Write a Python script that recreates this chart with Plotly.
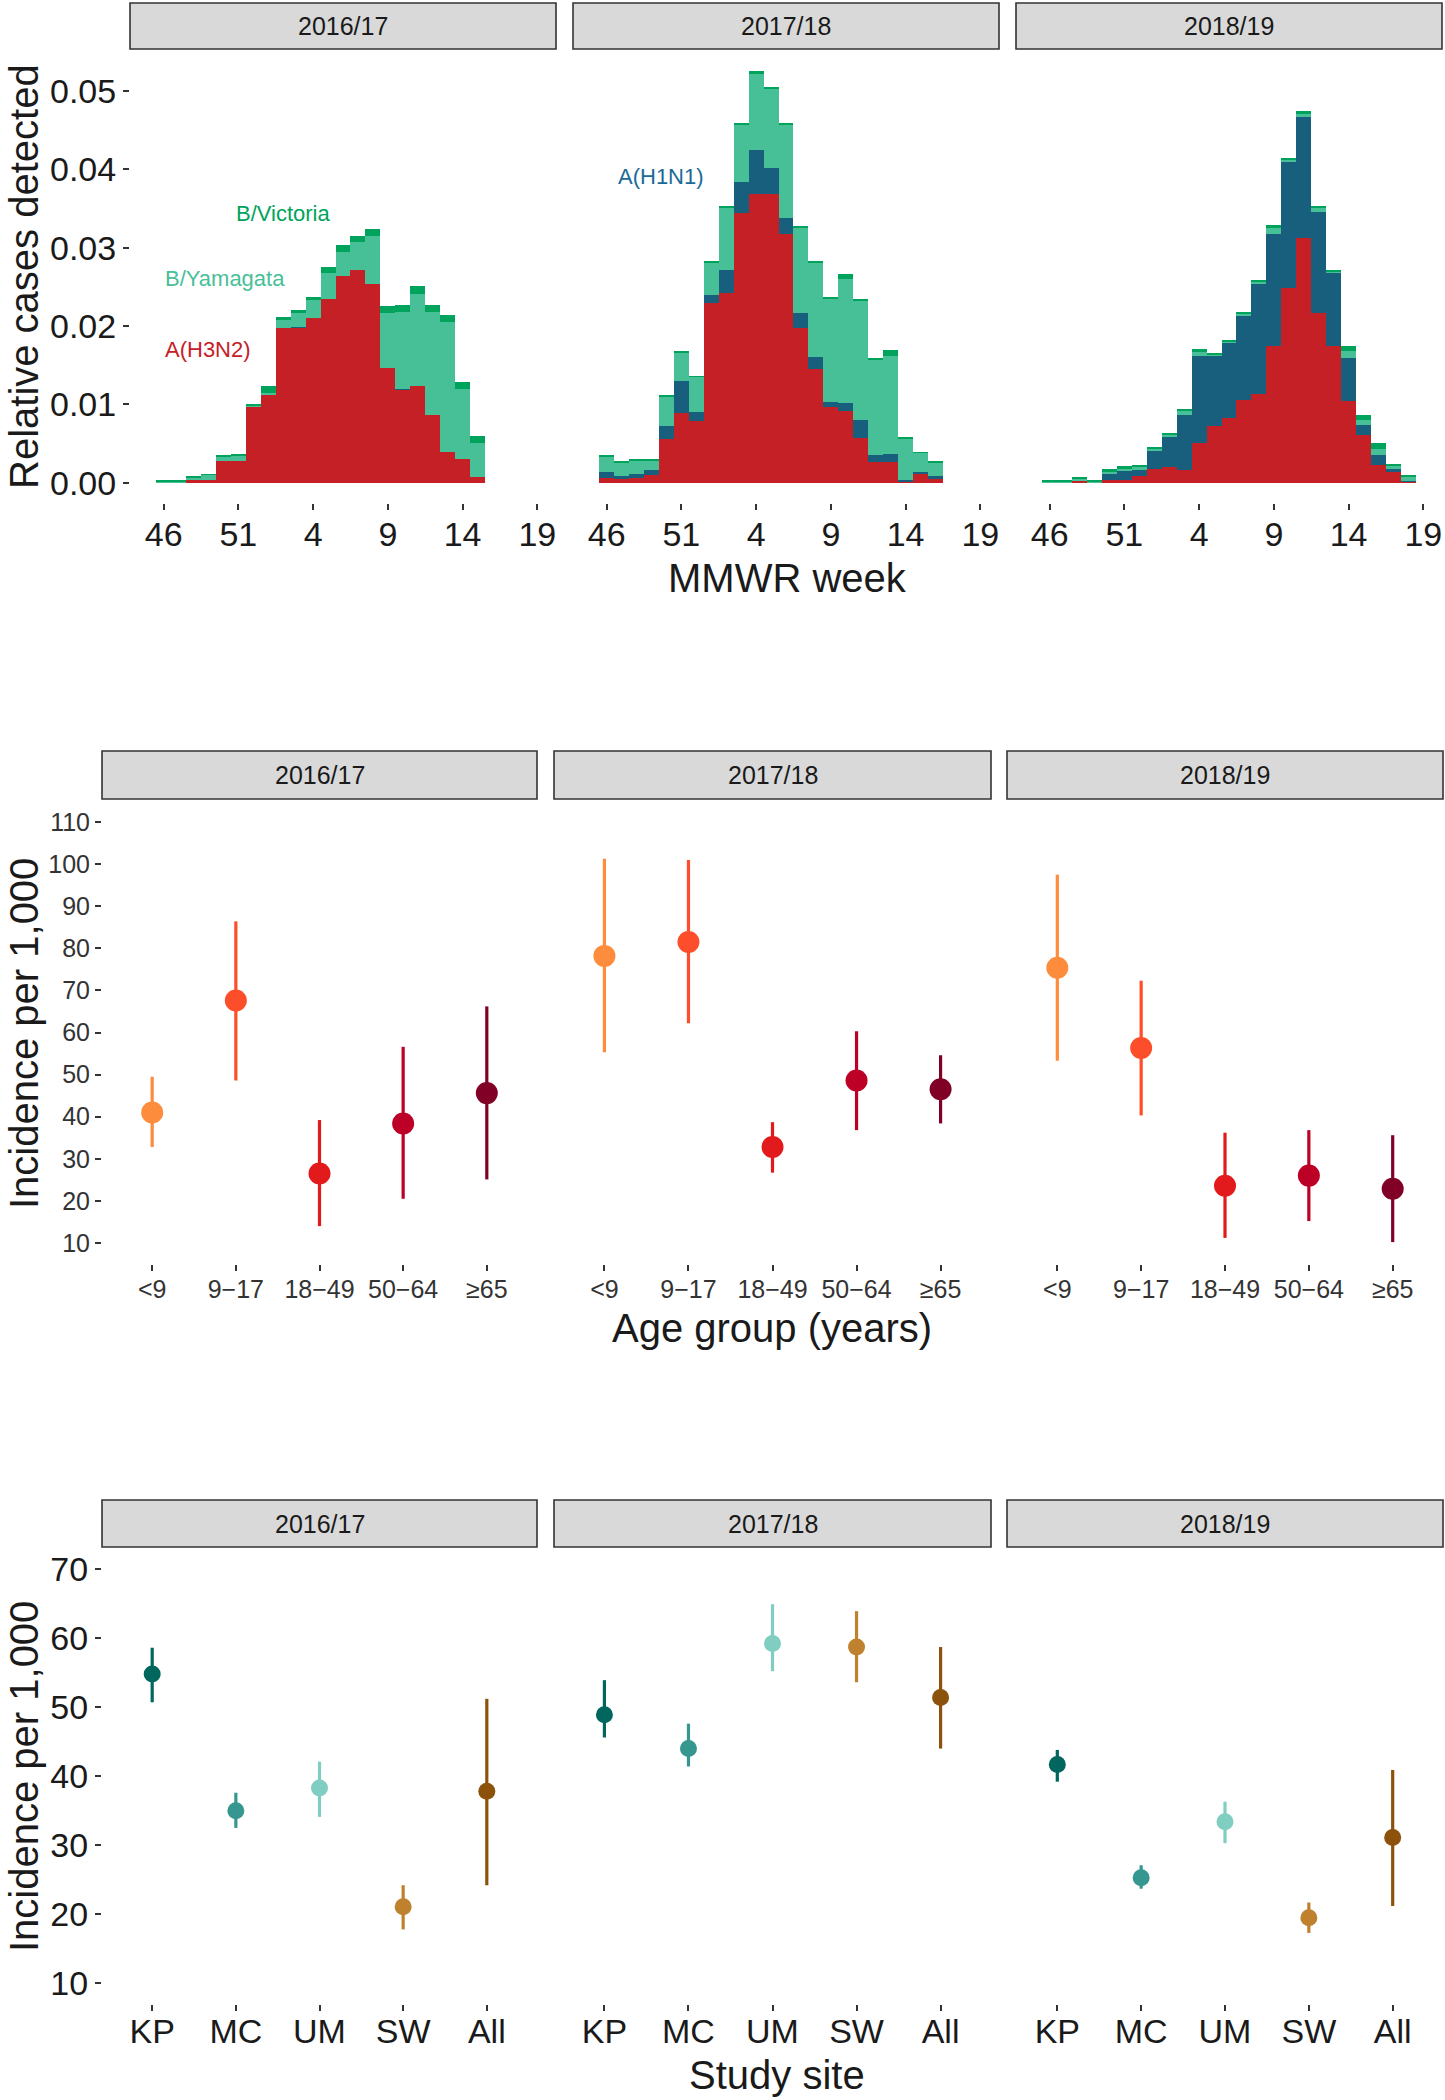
import plotly.graph_objects as go

W, H = 1445, 2100
FONT = "Liberation Sans, Arial, sans-serif"

seasons = ["2016/17", "2017/18", "2018/19"]

# ---------- Top row: weekly relative cases detected ----------
week_axis = ["46", "47", "48", "49", "50", "51", "52", "1", "2", "3", "4", "5", "6", "7",
             "8", "9", "10", "11", "12", "13", "14", "15", "16", "17", "18", "19"]
week_ticks = ["46", "51", "4", "9", "14", "19"]

weeks_1617 = week_axis[:22]
h3n2_1617 = [0, 0, 0.0003, 0.0004, 0.0028, 0.0028, 0.0096, 0.0113, 0.0197, 0.0198, 0.0210,
             0.0235, 0.0264, 0.0271, 0.0254, 0.0146, 0.0119, 0.0124, 0.0086, 0.0039, 0.0030, 0.0007]
h1n1_1617 = [0, 0, 0, 0, 0, 0, 0, 0, 0, 0.0001, 0, 0, 0, 0, 0, 0, 0.0001, 0, 0, 0, 0, 0]
yam_1617 = [0.0002, 0.0002, 0.0004, 0.0006, 0.0005, 0.0007, 0.0003, 0.0002, 0.0011, 0.0017, 0.0023,
            0.0033, 0.0031, 0.0036, 0.0061, 0.0070, 0.0098, 0.0117, 0.0132, 0.0166, 0.0090, 0.0044]
vic_1617 = [0.0001, 0.0001, 0.0001, 0.0001, 0.0002, 0.0002, 0.0002, 0.0008, 0.0004, 0.0004, 0.0004,
            0.0007, 0.0008, 0.0008, 0.0009, 0.0009, 0.0009, 0.0010, 0.0009, 0.0009, 0.0009, 0.0009]

weeks_1718 = week_axis[:23]
h3n2_1718 = [0.0006, 0.0005, 0.0006, 0.0010, 0.0056, 0.0089, 0.0079, 0.0229, 0.0242, 0.0344, 0.0369,
             0.0368, 0.0317, 0.0198, 0.0145, 0.0097, 0.0092, 0.0057, 0.0026, 0.0026, 0.0002, 0.0012, 0.0005]
h1n1_1718 = [0.0008, 0.0004, 0.0005, 0.0006, 0.0016, 0.0041, 0.0011, 0.0010, 0.0030, 0.0040, 0.0056,
             0.0034, 0.0021, 0.0019, 0.0015, 0.0006, 0.0010, 0.0023, 0.0009, 0.0010, 0.0001, 0.0002, 0.0004]
yam_1718 = [0.0019, 0.0017, 0.0017, 0.0012, 0.0038, 0.0036, 0.0045, 0.0042, 0.0079, 0.0073, 0.0097,
            0.0101, 0.0118, 0.0109, 0.0121, 0.0132, 0.0158, 0.0152, 0.0122, 0.0126, 0.0053, 0.0024, 0.0017]
vic_1718 = [0.0002, 0.0001, 0.0001, 0.0001, 0.0001, 0.0001, 0.0001, 0.0002, 0.0002, 0.0002, 0.0003,
            0.0002, 0.0003, 0.0002, 0.0002, 0.0002, 0.0006, 0.0002, 0.0002, 0.0007, 0.0001, 0.0001, 0.0001]

weeks_1819 = week_axis[:25]
h3n2_1819 = [0, 0, 0.0003, 0, 0.0004, 0.0004, 0.0009, 0.0017, 0.0020, 0.0016, 0.0050, 0.0072, 0.0083,
             0.0105, 0.0113, 0.0175, 0.0248, 0.0312, 0.0217, 0.0175, 0.0104, 0.0061, 0.0022, 0.0014, 0.0001]
h1n1_1819 = [0, 0, 0, 0, 0.0007, 0.0011, 0.0007, 0.0023, 0.0038, 0.0070, 0.0112, 0.0090, 0.0096,
             0.0108, 0.0141, 0.0142, 0.0161, 0.0155, 0.0129, 0.0092, 0.0055, 0.0012, 0.0013, 0.0003, 0.0001]
yam_1819 = [0.0002, 0.0002, 0.0002, 0.0002, 0.0003, 0.0003, 0.0004, 0.0003, 0.0003, 0.0005, 0.0005,
            0.0002, 0.0001, 0.0003, 0.0003, 0.0008, 0.0003, 0.0004, 0.0004, 0.0003, 0.0009, 0.0007,
            0.0008, 0.0004, 0.0005]
vic_1819 = [0.0001, 0.0001, 0.0001, 0.0002, 0.0003, 0.0003, 0.0003, 0.0002, 0.0002, 0.0003, 0.0003,
            0.0002, 0.0002, 0.0002, 0.0002, 0.0004, 0.0002, 0.0003, 0.0003, 0.0002, 0.0006, 0.0006,
            0.0007, 0.0003, 0.0003]

subtypes = ["A(H3N2)", "A(H1N1)", "B/Yamagata", "B/Victoria"]
subtype_colors = ["#C62027", "#175F7D", "#47BF97", "#00A35B"]

top_data = [
    (weeks_1617, [h3n2_1617, h1n1_1617, yam_1617, vic_1617]),
    (weeks_1718, [h3n2_1718, h1n1_1718, yam_1718, vic_1718]),
    (weeks_1819, [h3n2_1819, h1n1_1819, yam_1819, vic_1819]),
]

# ---------- Middle row: incidence by age group ----------
age_groups = ["<9", "9\u221217", "18\u221249", "50\u221264", "\u226565"]
age_colors = ["#FD8D3C", "#FC4E2A", "#E31A1C", "#BD0026", "#800026"]
age_est = [[41.0, 67.6, 26.5, 38.4, 45.6],
           [78.2, 81.5, 32.8, 48.6, 46.5],
           [75.4, 56.3, 23.6, 26.0, 22.9]]
age_lo = [[32.8, 48.6, 14.0, 20.5, 25.1],
          [55.3, 62.2, 26.7, 36.8, 38.4],
          [53.3, 40.3, 11.2, 15.2, 10.2]]
age_hi = [[49.5, 86.4, 39.2, 56.6, 66.2],
          [101.3, 101.0, 38.7, 60.3, 54.6],
          [97.5, 72.3, 36.2, 36.8, 35.6]]
age_ticks = [10, 20, 30, 40, 50, 60, 70, 80, 90, 100, 110]

# ---------- Bottom row: incidence by study site ----------
sites = ["KP", "MC", "UM", "SW", "All"]
site_colors = ["#01665E", "#35978F", "#80CDC1", "#BF812D", "#8C510A"]
site_est = [[54.8, 35.0, 38.3, 21.1, 37.8],
            [48.9, 44.0, 59.2, 58.7, 51.4],
            [41.7, 25.3, 33.4, 19.5, 31.1]]
site_lo = [[50.7, 32.5, 34.1, 17.8, 24.2],
           [45.6, 41.4, 55.2, 53.6, 44.0],
           [39.2, 23.7, 30.3, 17.3, 21.2]]
site_hi = [[58.6, 37.6, 42.1, 24.2, 51.2],
           [53.9, 47.6, 64.9, 63.9, 58.7],
           [43.8, 27.1, 36.3, 21.7, 40.9]]
site_ticks = [10, 20, 30, 40, 50, 60, 70]

# ---------- Layout geometry (pixels) ----------
def fx(px):
    return px / W

def fy(py):
    return 1 - py / H

top_cols = [(130, 556), (573, 999), (1016, 1442)]
low_cols = [(102, 537), (554, 991), (1007, 1443)]
rows = [  # (strip_top, plot_top, plot_bottom)
    (3, 51, 503),
    (751, 801, 1264),
    (1500, 1549, 2004),
]

fig = go.Figure()
layout = dict(
    width=W, height=H, margin=dict(l=0, r=0, t=0, b=0),
    paper_bgcolor="white", plot_bgcolor="white",
    showlegend=False, barmode="stack", bargap=0,
    font=dict(family=FONT, color="#1a1a1a"),
)
shapes = []
annotations = []

TICKCOL = "#333333"

def axis_name(i):
    return "" if i == 1 else str(i)

ax_i = 0
for r in range(3):
    strip_top, plot_top, plot_bottom = rows[r]
    cols = top_cols if r == 0 else low_cols
    for c in range(3):
        ax_i += 1
        xn, yn = axis_name(ax_i), axis_name(ax_i)
        x0, x1 = cols[c]
        xa = dict(domain=[fx(x0), fx(x1)], anchor="y" + yn, showgrid=False, zeroline=False,
                  showline=False, ticks="outside", ticklen=6, tickwidth=2, tickcolor=TICKCOL)
        ya = dict(domain=[fy(plot_bottom), fy(plot_top)], anchor="x" + xn, showgrid=False,
                  zeroline=False, showline=False)
        if r == 0:
            weeks, series = top_data[c]
            for name, vals, col in zip(subtypes, series, subtype_colors):
                fig.add_trace(go.Bar(x=weeks, y=vals, name=name, marker=dict(color=col, line=dict(width=0)),
                                     width=1.0, xaxis="x" + xn, yaxis="y" + yn))
            xa.update(type="category", categoryorder="array", categoryarray=week_axis,
                      range=[-2.25, 26.25], tickmode="array", tickvals=week_ticks, ticktext=week_ticks,
                      tickfont=dict(size=34, color="#1a1a1a"), ticklabelstandoff=-5)
            ya.update(range=[-0.0026, 0.0551], tickvals=[0, 0.01, 0.02, 0.03, 0.04, 0.05],
                      tickformat=".2f")
        else:
            cats = age_groups if r == 1 else sites
            colors = age_colors if r == 1 else site_colors
            est = (age_est if r == 1 else site_est)[c]
            lo = (age_lo if r == 1 else site_lo)[c]
            hi = (age_hi if r == 1 else site_hi)[c]
            msize = 22 if r == 1 else 17
            for k in range(5):
                fig.add_trace(go.Scatter(
                    x=[cats[k]], y=[est[k]], mode="markers",
                    marker=dict(color=colors[k], size=msize, line=dict(width=0)),
                    error_y=dict(type="data", symmetric=False, array=[hi[k] - est[k]],
                                 arrayminus=[est[k] - lo[k]], color=colors[k], thickness=3.2, width=0),
                    xaxis="x" + xn, yaxis="y" + yn))
            xa.update(type="category", categoryorder="array", categoryarray=cats,
                      range=[-0.6, 4.6],
                      tickfont=dict(size=25 if r == 1 else 34, color="#333333" if r == 1 else "#1a1a1a"),
                      ticklabelstandoff=(-3 if r == 1 else -9))
            if r == 1:
                ya.update(range=[5.0, 115.0], tickvals=age_ticks)
            else:
                ya.update(range=[7.0, 72.9], tickvals=site_ticks)
        if c == 0:
            ya.update(ticks="outside", ticklen=6, tickwidth=2, tickcolor=TICKCOL, showticklabels=True,
                      tickfont=dict(size=(34 if r != 1 else 25), color=("#333333" if r == 1 else "#1a1a1a")))
        else:
            ya.update(showticklabels=False, ticks="")
        layout["xaxis" + xn] = xa
        layout["yaxis" + yn] = ya

        # facet strip
        shapes.append(dict(type="rect", xref="paper", yref="paper",
                           x0=fx(x0), x1=fx(x1), y0=fy(plot_top - 2), y1=fy(strip_top),
                           fillcolor="#D9D9D9", line=dict(color="#333333", width=1.6), layer="above"))
        annotations.append(dict(text=seasons[c], xref="paper", yref="paper",
                                x=fx((x0 + x1) / 2), y=fy((strip_top + plot_top - 2) / 2),
                                showarrow=False, font=dict(size=25, color="#1a1a1a", family=FONT),
                                xanchor="center", yanchor="middle"))

# in-panel subtype labels (positions in category-index units of the week axis)
annotations += [
    dict(text="B/Victoria", x=8.0, y=0.0344, xref="x", yref="y", showarrow=False,
         font=dict(size=22, color="#00A35B", family=FONT)),
    dict(text="B/Yamagata", x=4.1, y=0.026, xref="x", yref="y", showarrow=False,
         font=dict(size=22, color="#47BF97", family=FONT)),
    dict(text="A(H3N2)", x=2.95, y=0.017, xref="x", yref="y", showarrow=False,
         font=dict(size=22, color="#C62027", family=FONT)),
    dict(text="A(H1N1)", x=3.66, y=0.0391, xref="x2", yref="y2", showarrow=False,
         font=dict(size=22, color="#1B6A96", family=FONT)),
]

# axis titles
titles = [
    ("Relative cases detected", 24, 277, -90),
    ("MMWR week", 787, 578, 0),
    ("Incidence per 1,000", 24, 1034, -90),
    ("Age group (years)", 772, 1328, 0),
    ("Incidence per 1,000", 24, 1777, -90),
    ("Study site", 777, 2075, 0),
]
for text, px, py, ang in titles:
    annotations.append(dict(text=text, xref="paper", yref="paper", x=fx(px), y=fy(py),
                            showarrow=False, textangle=ang, xanchor="center", yanchor="middle",
                            font=dict(size=40, color="#1a1a1a", family=FONT)))

layout["shapes"] = shapes
layout["annotations"] = annotations
fig.update_layout(**layout)
fig.write_html("out.html", config={"displayModeBar": False},
               post_script="document.body.style.margin='0px';")
